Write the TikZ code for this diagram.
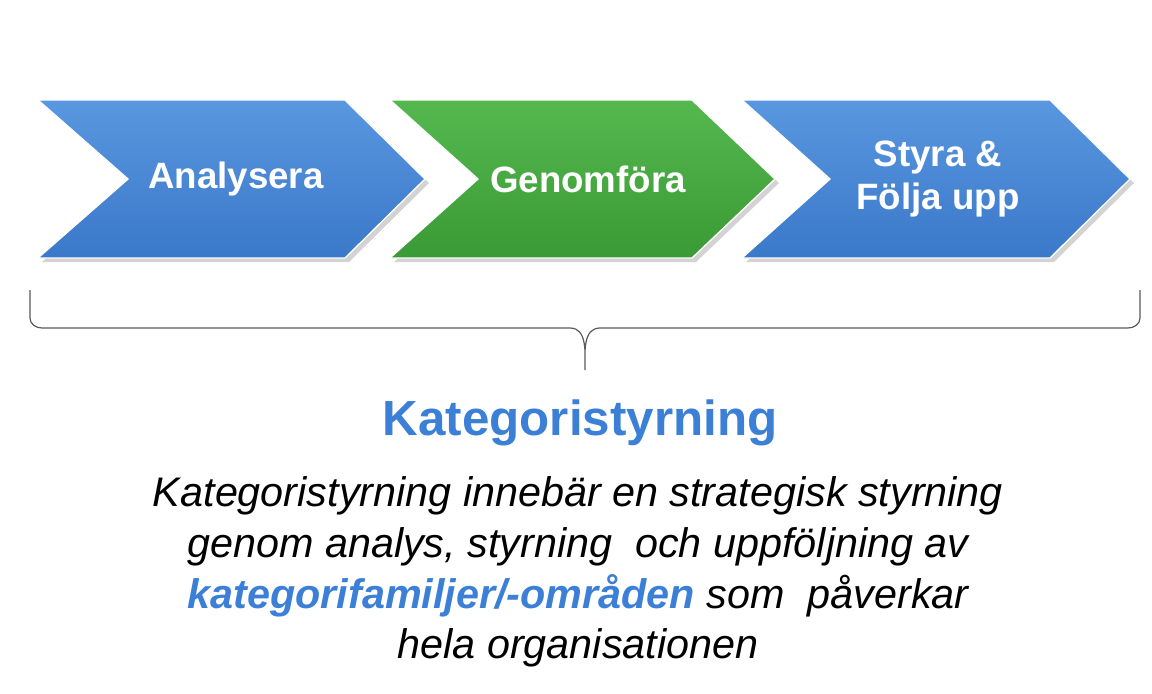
\documentclass[tikz,border=0pt]{standalone}
\usepackage{fontspec}
\setmainfont{Liberation Sans}
\usetikzlibrary{shadows}
\definecolor{cblue}{HTML}{3A78C9}
\definecolor{cbluel}{HTML}{5A97E0}
\definecolor{cgreen}{HTML}{3A9A35}
\definecolor{cgreenl}{HTML}{55B84F}
\definecolor{ttl}{HTML}{3C7FD6}
\begin{document}
\begin{tikzpicture}[x=0.75pt,y=-0.75pt,
  chev/.style={draw=white,line width=1pt,drop shadow={opacity=0.35,shadow xshift=3pt,shadow yshift=-3pt}},
  lbl/.style={text=white,font=\bfseries\fontsize{27.5}{32}\selectfont,align=center},
  body/.style={font=\itshape\fontsize{31}{38}\selectfont,align=center}]
\useasboundingbox (0,0) rectangle (1152,693);
\path[chev,top color=cbluel,bottom color=cblue] (38,100) -- (345,100) -- (425,179) -- (345,258) -- (38,258) -- (128,179) -- cycle;
\path[chev,top color=cgreenl,bottom color=cgreen] (390,100) -- (692,100) -- (775,179) -- (692,258) -- (390,258) -- (478,179) -- cycle;
\path[chev,top color=cbluel,bottom color=cblue] (742,100) -- (1050,100) -- (1130,179) -- (1050,258) -- (742,258) -- (830,179) -- cycle;
\node[lbl] (a) at (236,179) {Analysera};
\node[lbl] (g) at (588,179) {Genomföra};
\node[lbl] (s) at (938,179) {Styra \&\\Följa upp};
\coordinate (bl) at (30,290);
\coordinate (br) at (1140,290);
\coordinate (bt) at (585,370);
\draw[gray!70!black,line width=0.9pt] (bl) -- (30,318) to[out=-90,in=180] (42,328) -- (570,328) to[out=0,in=90] (bt) to[out=90,in=180] (600,328) -- (1128,328) to[out=0,in=-90] (1140,318) -- (br);
\node[font=\bfseries\fontsize{37}{42}\selectfont,text=ttl] (t) at (580,423) {Kategoristyrning};
\node[body] (b) at (578,572) {Kategoristyrning innebär en strategisk styrning\\genom analys, styrning\ \ och uppföljning av\\{\bfseries\color{ttl}kategorifamiljer/-områden} som\ \ påverkar\\hela organisationen};
\end{tikzpicture}
\end{document}
